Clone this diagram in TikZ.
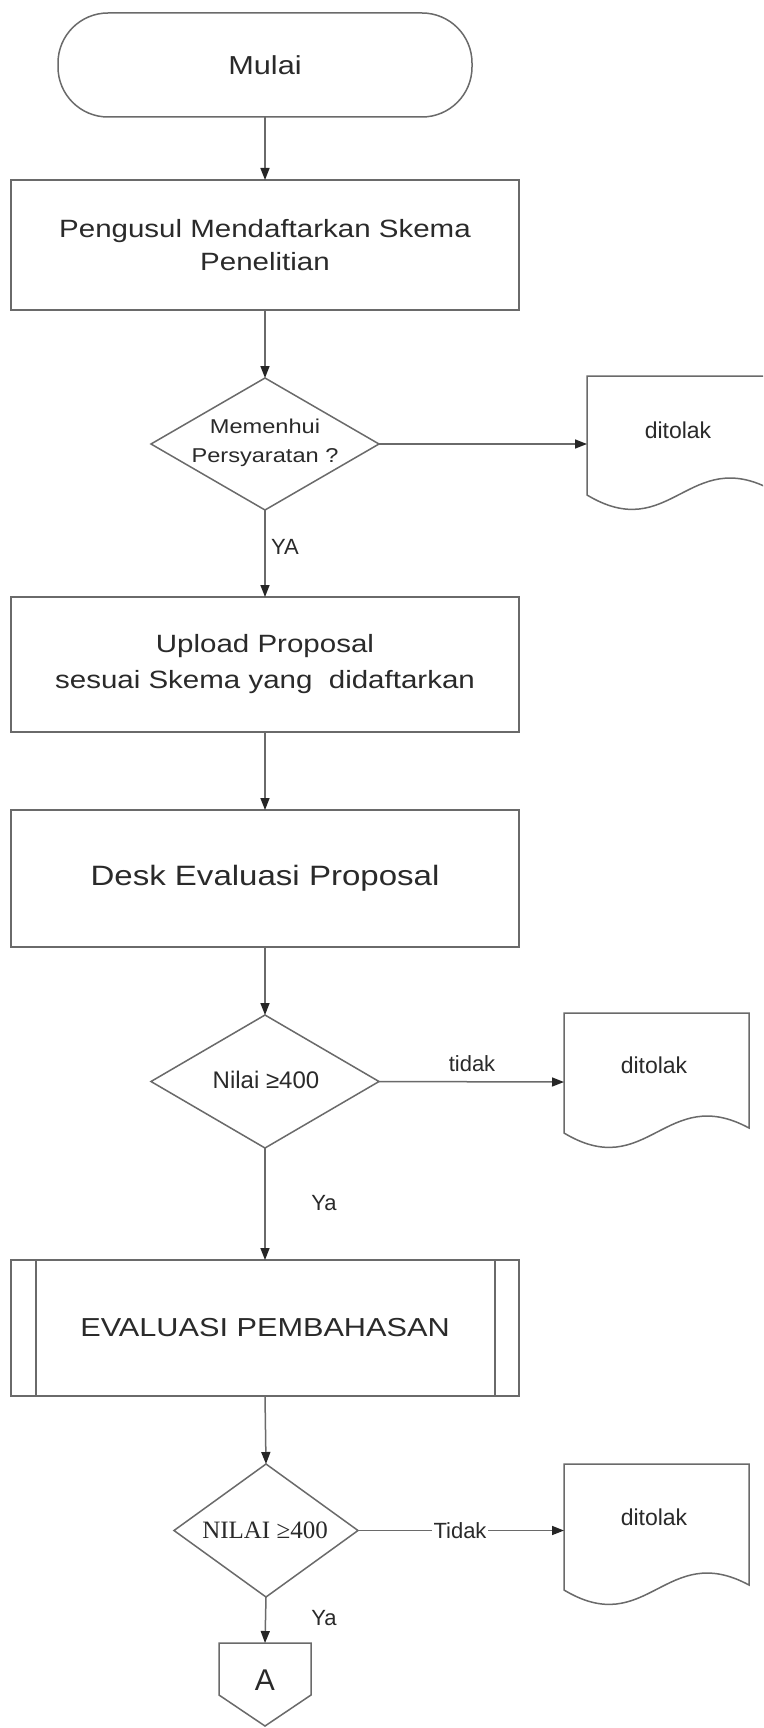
\documentclass[tikz,border=0pt]{standalone}
\usepackage{fontspec}
\setmainfont{Liberation Sans}
\newfontfamily\widefont{Liberation Sans}[FakeStretch=1.18]
\newfontfamily\serifx{Liberation Serif}
\usetikzlibrary{shapes.geometric,arrows.meta}
\definecolor{lc}{HTML}{6A6A6A}
\definecolor{tc}{HTML}{2A2A2A}
\begin{document}
\begin{tikzpicture}[x=1pt,y=-1pt,
  shp/.style={draw=lc, line width=1.5pt, fill=white},
  proc/.style={shp, rectangle, minimum width=508pt, inner sep=0pt, outer sep=0pt, align=center, text=tc},
  dia/.style={shp, diamond, inner sep=0pt, outer sep=0pt},
  ghost/.style={inner sep=0pt, outer sep=0pt, text=tc},
  lbl/.style={inner sep=1pt, text=tc, font=\fontsize{22}{26}\selectfont},
  arr/.style={draw=lc, line width=1.5pt, -{Triangle[length=12pt,width=9pt,color=black!85]}},
  ln/.style={draw=lc, line width=1.5pt}
]
\useasboundingbox (0,0) rectangle (763,1728);
\clip (0,0) rectangle (763,1728);
\fill[white] (0,0) rectangle (763,1728);

% start terminal
\node[shp, rounded corners=50pt, minimum width=414pt, minimum height=104pt, inner sep=0pt, outer sep=0pt, text=tc, font=\widefont\fontsize{26}{30}\selectfont] (start) at (265,65) {Mulai};

% box 1
\node[proc, minimum height=130pt, font=\widefont\fontsize{25}{33}\selectfont] (b1) at (265,245) {Pengusul Mendaftarkan Skema\\Penelitian};

% diamond 1
\node[dia, minimum width=228pt, minimum height=132pt] (d1) at (265,444) {};
\node[ghost, align=center, font=\widefont\fontsize{20}{29}\selectfont] (d1t) at (265,443) {Memenhui\\Persyaratan ?};

% doc 1
\draw[shp] (772,490) -- (772,376) -- (587,376) -- (587,495) .. controls (670.25,545) and (688.75,445) .. (772,490) -- cycle;
\node[ghost, font=\fontsize{23}{27}\selectfont] (doc1) at (678,430) {ditolak};
\coordinate (doc1in) at (587,444);

% box 2
\node[proc, minimum height=135pt, font=\widefont\fontsize{25}{36}\selectfont] (b2) at (265,664.5) {Upload Proposal\\sesuai Skema yang\ \ didaftarkan};

% box 3
\node[proc, minimum height=137pt, font=\widefont\fontsize{28}{32}\selectfont] (b3) at (265,878.5) {Desk Evaluasi Proposal};

% diamond 2
\node[dia, minimum width=228pt, minimum height=133pt] (d2) at (265,1081.5) {};
\node[ghost, font=\fontsize{24}{28}\selectfont] (d2t) at (266,1080) {Nilai ≥400};

% doc 2
\draw[shp] (749,1128) -- (749,1013) -- (564,1013) -- (564,1133) .. controls (647.25,1183) and (665.75,1083) .. (749,1128) -- cycle;
\node[ghost, font=\fontsize{23}{27}\selectfont] (doc2) at (654,1065) {ditolak};
\coordinate (doc2in) at (564,1082);

% box 4 (predefined process)
\node[proc, minimum height=136pt, font=\widefont\fontsize{26}{30}\selectfont] (b4) at (265,1328) {EVALUASI PEMBAHASAN};
\draw[ln] (36,1260) -- (36,1396);
\draw[ln] (495,1260) -- (495,1396);

% diamond 3
\node[dia, minimum width=184pt, minimum height=133pt] (d3) at (266,1530.5) {};
\node[ghost, font=\serifx\fontsize{25}{29}\selectfont] (d3t) at (265,1530) {NILAI ≥400};

% doc 3
\draw[shp] (749,1585) -- (749,1464) -- (564,1464) -- (564,1590) .. controls (647.25,1640) and (665.75,1540) .. (749,1585) -- cycle;
\node[ghost, font=\fontsize{23}{27}\selectfont] (doc3) at (654,1517) {ditolak};
\coordinate (doc3in) at (564,1530.5);

% off-page connector
\draw[shp] (219,1643) -- (311,1643) -- (311,1695) -- (265,1726) -- (219,1695) -- cycle;
\node[ghost, minimum width=92pt, minimum height=74pt, font=\fontsize{30}{34}\selectfont] (conA) at (265,1680) {A};

% connectors
\draw[arr] (start.south) -- (b1.north);
\draw[arr] (b1.south) -- (d1.north);
\draw[arr] (d1.east) -- (doc1in);
\draw[arr] (d1.south) -- (b2.north);
\draw[arr] (b2.south) -- (b3.north);
\draw[arr] (b3.south) -- (d2.north);
\draw[arr] (d2.east) -- (doc2in);
\draw[arr] (d2.south) -- (b4.north);
\draw[arr] (b4.south) -- (d3.north);
\draw[arr] (d3.east) -- (doc3in);
\draw[arr] (d3.south) -- (conA.north);

% labels
\node[lbl, anchor=west] (lya1) at (270,547) {YA};
\node[lbl] (ltidak1) at (472,1064) {tidak};
\node[lbl] (lya2) at (324,1203) {Ya};
\node[lbl, fill=white, inner sep=2pt] (ltidak2) at (460,1530.5) {Tidak};
\node[lbl] (lya3) at (324,1618) {Ya};
\end{tikzpicture}
\end{document}
